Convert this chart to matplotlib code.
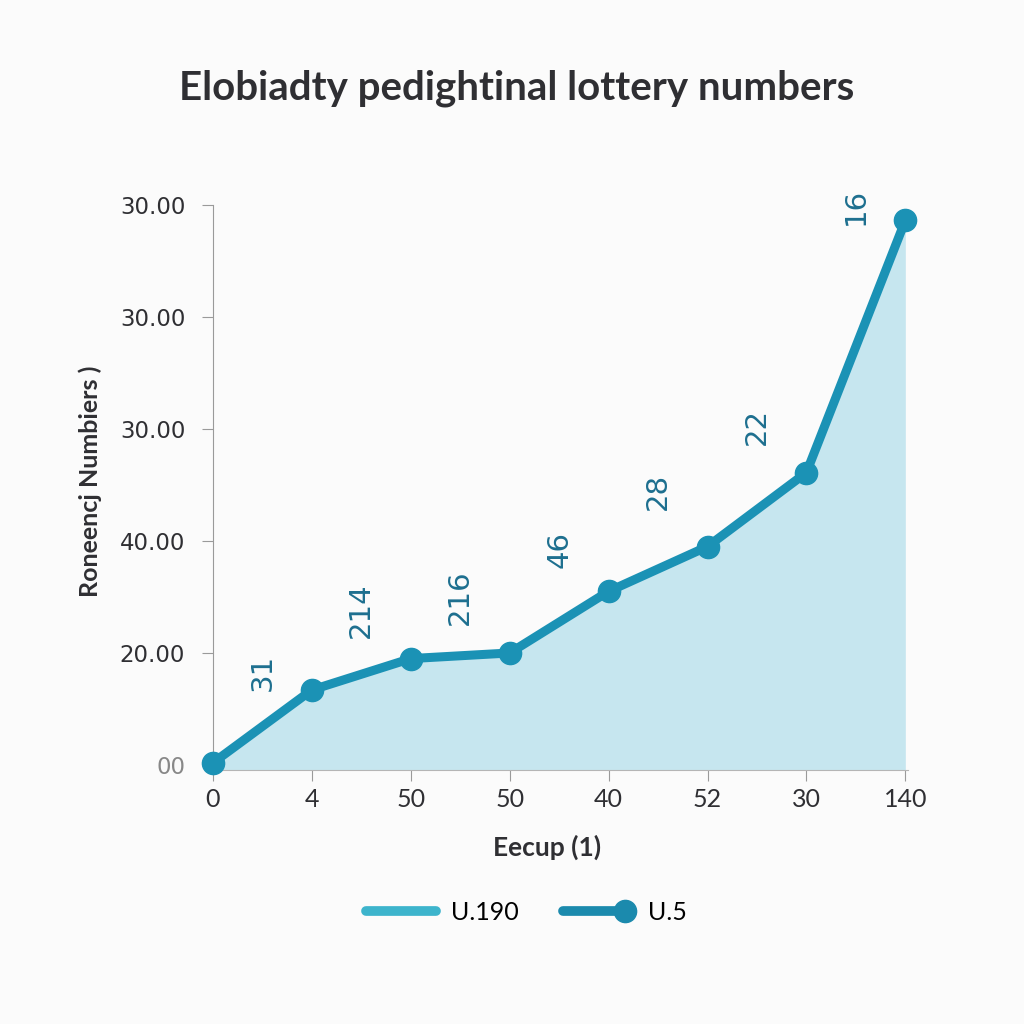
import matplotlib
matplotlib.use("Agg")
import matplotlib.pyplot as plt
from matplotlib.lines import Line2D
from matplotlib.legend_handler import HandlerLine2D

# data
X_LABELS = ["0", "4", "50", "50", "40", "52", "30", "140"]
VALUES = [0.4, 13.4, 19.0, 20.0, 31.0, 39.0, 52.2, 97.2]
Y_TICKS = [0, 20, 40, 60, 80, 100]
Y_LABELS = ["00", "20.00", "40.00", "30.00", "30.00", "30.00"]
POINT_LABELS = ["31", "214", "216", "46", "28", "22", "16"]
LEGEND_LABELS = ["U.190", "U.5"]

# style
BG = "#fbfbfb"
LINE = "#1b92b5"
FILL = "#c6e6ef"
TXT = "#2f2f33"
ANN = "#1d6f8f"
LABEL_OFFSETS = [39, 46, 42, 52, 56, 60, 101]  # points above segment midpoints
SANS = ["Lato", "DejaVu Sans"]


class EndDotHandler(HandlerLine2D):
    """Legend line with a dot at its right end."""
    def create_artists(self, legend, orig_handle, xdescent, ydescent,
                       width, height, fontsize, trans):
        y = height / 2 - ydescent
        xend = width - xdescent - 6
        line = Line2D([-xdescent, xend], [y, y],
                      color=orig_handle.get_color(), lw=orig_handle.get_linewidth(),
                      solid_capstyle="round")
        dot = Line2D([xend], [y], marker="o",
                     markersize=orig_handle.get_markersize(),
                     color=orig_handle.get_color(), lw=0)
        line.set_transform(trans)
        dot.set_transform(trans)
        return [line, dot]


fig = plt.figure(figsize=(10.24, 10.24), dpi=100, facecolor=BG)
ax = fig.add_axes([0.208, 0.248, 0.679, 0.552])
ax.set_facecolor(BG)

x = list(range(len(VALUES)))
ax.fill_between(x, VALUES, -1, color=FILL, zorder=1, lw=0)
ax.plot(x, VALUES, color=LINE, lw=6.5, marker="o", markersize=16,
        solid_capstyle="round", zorder=3, clip_on=False)

for i, (lab, off) in enumerate(zip(POINT_LABELS, LABEL_OFFSETS)):
    mid = (VALUES[i] + VALUES[i + 1]) / 2
    ax.annotate(lab, xy=(i + 0.5, mid), xytext=(0, off), textcoords="offset points",
                ha="center", va="center", rotation=90, fontsize=21,
                color=ANN, zorder=4)

ax.set_xlim(0, 7.03)
ax.set_ylim(-0.9, 100)
ax.set_xticks(x)
ax.set_xticklabels(X_LABELS, family=SANS, fontsize=18, color=TXT)
ax.set_yticks(Y_TICKS)
ax.set_yticklabels(Y_LABELS, fontsize=16.5, color=TXT)
ax.get_yticklabels()[0].set_color("#888888")

for s in ["top", "right"]:
    ax.spines[s].set_visible(False)
ax.spines["left"].set_color("#9a9a9a")
ax.spines["bottom"].set_color("#b5b5b5")
ax.tick_params(axis="y", length=8, color="#9a9a9a", pad=12)
ax.tick_params(axis="x", length=8, color="#9a9a9a", pad=5)

ax.set_xlabel("Eecup (1)", fontsize=19, fontweight="bold", color=TXT,
              family=SANS)
ax.xaxis.set_label_coords(0.48, -0.115)
ax.set_ylabel("Roneencj Numbiers )", fontsize=18, fontweight="bold", color=TXT,
              family=SANS)
ax.yaxis.set_label_coords(-0.16, 0.51)

fig.text(0.505, 0.914, "Elobiadty pedightinal lottery numbers", ha="center",
         va="center", fontsize=29, fontweight="bold", color=TXT, family=SANS)

h1 = Line2D([], [], color="#3db4cc", lw=7, solid_capstyle="round")
h2 = Line2D([], [], color="#1b8aad", lw=7, markersize=16)
fig.legend([h1, h2], LEGEND_LABELS, loc="center", bbox_to_anchor=(0.514, 0.109),
           ncol=2, frameon=False, handlelength=2.8,
           columnspacing=1.8, handletextpad=0.6,
           handler_map={h1: HandlerLine2D(), h2: EndDotHandler()},
           prop={"family": SANS, "size": 18})

fig.savefig("out.png", dpi=100, facecolor=BG)
